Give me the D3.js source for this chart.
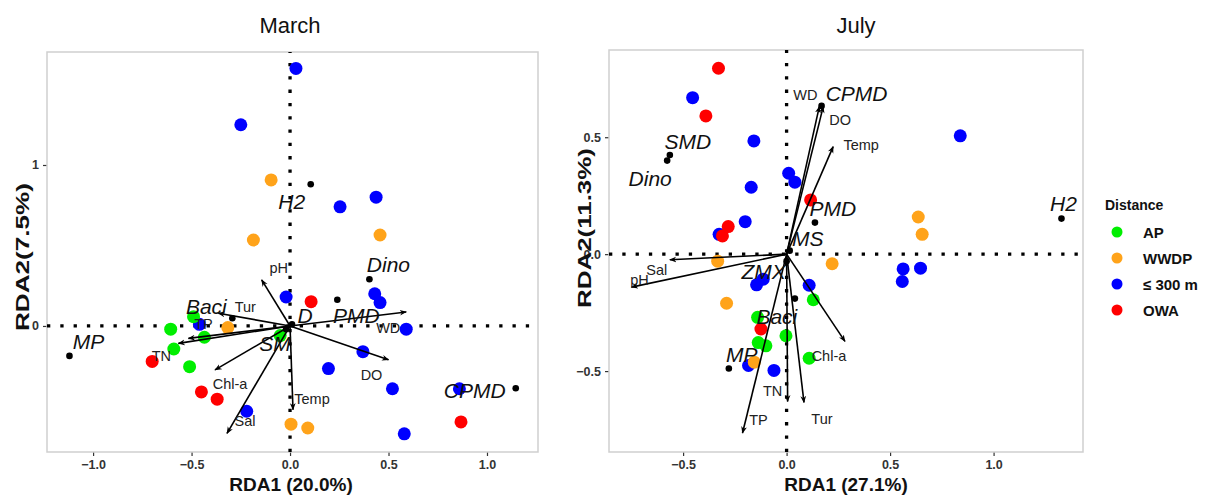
<!DOCTYPE html>
<html>
<head>
<meta charset="utf-8">
<script src="https://cdn.jsdelivr.net/npm/d3@7"></script>
<style>
  html, body { margin: 0; padding: 0; background: #fff; }
  svg { display: block; font-family: "Liberation Sans", Arial, sans-serif; }
</style>
</head>
<body>
<svg id="chart" width="1212" height="495"></svg>
<script>
// ---------------- DATA ----------------
const groups = ["AP", "WWDP", "≤ 300 m", "OWA"];
const groupColors = ["#00ee00", "#ffa31a", "#0000ff", "#ff0000"];

// March site scores [RDA1, RDA2, group]
const marchSites = [
  [0.03, 1.60, "≤ 300 m"], [-0.25, 1.25, "≤ 300 m"], [0.254, 0.74, "≤ 300 m"], [0.437, 0.80, "≤ 300 m"],
  [-0.02, 0.18, "≤ 300 m"], [-0.46, 0.01, "≤ 300 m"], [-0.22, -0.53, "≤ 300 m"], [0.43, 0.20, "≤ 300 m"],
  [0.457, 0.145, "≤ 300 m"], [0.59, -0.02, "≤ 300 m"], [0.37, -0.16, "≤ 300 m"], [0.195, -0.265, "≤ 300 m"],
  [0.52, -0.39, "≤ 300 m"], [0.86, -0.39, "≤ 300 m"], [0.58, -0.67, "≤ 300 m"],
  [-0.096, 0.907, "WWDP"], [-0.186, 0.534, "WWDP"], [0.457, 0.565, "WWDP"], [-0.316, -0.01, "WWDP"],
  [0.005, -0.61, "WWDP"], [0.09, -0.634, "WWDP"],
  [0.107, 0.151, "OWA"], [-0.70, -0.22, "OWA"], [-0.45, -0.41, "OWA"], [-0.37, -0.455, "OWA"], [0.868, -0.596, "OWA"],
  [-0.49, 0.058, "AP"], [-0.606, -0.02, "AP"], [-0.435, -0.07, "AP"], [-0.59, -0.143, "AP"],
  [-0.51, -0.253, "AP"], [-0.05, -0.06, "AP"]
];
// March species scores [name, RDA1, RDA2]
const marchSpecies = [
  ["H2", 0.105, 0.88], ["MP", -1.12, -0.186], ["Dino", 0.403, 0.29], ["PMD", 0.24, 0.163],
  ["CPMD", 1.146, -0.387], ["Baci", -0.293, 0.048], ["D", 0.01, 0.01], ["SM", -0.02, -0.02]
];
// March environmental vectors [name, RDA1, RDA2]
const marchEnv = [
  ["pH", -0.144, 0.286], ["Tur", -0.364, 0.079], ["TP", -0.516, -0.077], ["TN", -0.567, -0.108],
  ["Chl-a", -0.381, -0.273], ["Sal", -0.32, -0.667], ["Temp", 0.015, -0.52], ["WD", 0.59, 0.087], ["DO", 0.50, -0.21]
];

// July site scores
const julySites = [
  [-0.454, 0.669, "≤ 300 m"], [-0.158, 0.484, "≤ 300 m"], [0.01, 0.346, "≤ 300 m"], [0.04, 0.308, "≤ 300 m"],
  [-0.171, 0.286, "≤ 300 m"], [-0.20, 0.139, "≤ 300 m"], [-0.326, 0.085, "≤ 300 m"], [0.839, 0.506, "≤ 300 m"],
  [-0.113, -0.107, "≤ 300 m"], [-0.145, -0.131, "≤ 300 m"], [-0.184, -0.476, "≤ 300 m"], [-0.061, -0.497, "≤ 300 m"],
  [0.563, -0.063, "≤ 300 m"], [0.647, -0.06, "≤ 300 m"], [0.559, -0.117, "≤ 300 m"], [0.109, -0.133, "≤ 300 m"],
  [0.636, 0.159, "WWDP"], [0.655, 0.085, "WWDP"], [-0.333, -0.03, "WWDP"], [-0.29, -0.21, "WWDP"],
  [-0.156, -0.462, "WWDP"], [0.22, -0.041, "WWDP"],
  [-0.329, 0.795, "OWA"], [-0.39, 0.591, "OWA"], [0.116, 0.232, "OWA"], [-0.282, 0.118, "OWA"],
  [-0.31, 0.078, "OWA"], [-0.124, -0.32, "OWA"],
  [-0.14, -0.27, "AP"], [-0.003, -0.349, "AP"], [-0.137, -0.378, "AP"], [-0.10, -0.392, "AP"],
  [0.129, -0.195, "AP"], [0.109, -0.445, "AP"]
];
const julySpecies = [
  ["SMD", -0.564, 0.424], ["Dino", -0.577, 0.40], ["H2", 1.328, 0.152], ["CPMD", 0.169, 0.634],
  ["PMD", 0.137, 0.135], ["MS", 0.015, 0.015], ["ZMX", 0.0, -0.03], ["Baci", 0.04, -0.19], ["MP", -0.279, -0.489]
];
const julyEnv = [
  ["WD", 0.158, 0.631], ["DO", 0.177, 0.631], ["Temp", 0.225, 0.46], ["Sal", -0.564, -0.024],
  ["pH", -0.749, -0.141], ["TP", -0.213, -0.765], ["TN", 0.005, -0.63], ["Tur", 0.084, -0.634], ["Chl-a", 0.282, -0.373]
];

const marchXTicks = [-1.0, -0.5, 0.0, 0.5, 1.0];
const marchYTicks = [0, 1];
const julyXTicks = [-0.5, 0.0, 0.5, 1.0];
const julyYTicks = [-0.5, 0.0, 0.5];

// ---------------- LAYOUT (pixel offsets for labels) ----------------
const marchSpeciesOff = { H2: [-19, 17], MP: [19, -14], Dino: [19, -15], PMD: [19, 16], CPMD: [-41, 2], Baci: [-26, -12], D: [13, -9], SM: [-11, 14] };
const marchEnvOff = { pH: [17, -12], Tur: [27, -6], TP: [15, -14], TN: [-17, 13], "Chl-a": [15, 14], Sal: [18, -12], Temp: [19, -11], WD: [-18, 16], DO: [-17, 15] };
const julySpeciesOff = { SMD: [18, -14], Dino: [-17, 18], H2: [2, -15], CPMD: [35, -12], PMD: [18, -14], MS: [18, -12], ZMX: [-23, 10], Baci: [-18, 18], MP: [13, -14] };
const julyEnvOff = { WD: [-14, -12], DO: [17, 13], Temp: [28, -2], Sal: [-13, 10], pH: [8, -7], TP: [16, -13], TN: [-15, -10], Tur: [18, 17], "Chl-a": [-16, 15] };

const svg = d3.select("#chart");
const color = d3.scaleOrdinal().domain(groups).range(groupColors);

const defs = svg.append("defs");
defs.append("marker").attr("id", "arr").attr("viewBox", "0 0 10 10")
  .attr("refX", 9).attr("refY", 5).attr("markerWidth", 4.5).attr("markerHeight", 4.5)
  .attr("orient", "auto").attr("markerUnits", "strokeWidth")
  .append("path").attr("d", "M0,1 L10,5 L0,9 L3,5 Z").attr("fill", "#000");

function fmt(v, dec) {
  const s = Math.abs(v).toFixed(dec);
  return (v < 0 ? "\u2212" : "") + s;
}

function panel(cfg) {
  const x = d3.scaleLinear().domain(cfg.xDom).range([cfg.left, cfg.right]);
  const y = d3.scaleLinear().domain(cfg.yDom).range([cfg.bottom, cfg.top]);
  const g = svg.append("g");
  const clipId = "clip" + cfg.id;
  defs.append("clipPath").attr("id", clipId).append("rect")
    .attr("x", cfg.left).attr("y", cfg.top).attr("width", cfg.right - cfg.left).attr("height", cfg.bottom - cfg.top);

  // title
  g.append("text").attr("x", cfg.titleX).attr("y", 33).attr("text-anchor", "middle")
    .attr("font-size", 22).attr("fill", "#111").text(cfg.title);

  // axes
  const xAxis = d3.axisBottom(x).tickValues(cfg.xTicks).tickSize(4).tickPadding(4).tickFormat(d => fmt(d, 1));
  const yAxis = d3.axisLeft(y).tickValues(cfg.yTicks).tickSize(4).tickPadding(4).tickFormat(d => fmt(d, cfg.yDec));
  const gx = g.append("g").attr("transform", `translate(0,${cfg.bottom})`).call(xAxis);
  const gy = g.append("g").attr("transform", `translate(${cfg.left},0)`).call(yAxis);
  [gx, gy].forEach(a => {
    a.select(".domain").remove();
    a.selectAll(".tick line").attr("stroke", "#333").attr("stroke-width", 1.2);
    a.selectAll(".tick text").attr("font-size", 12.5).attr("font-weight", "bold").attr("fill", "#333")
      .attr("font-family", "Liberation Sans, Arial, sans-serif");
  });

  // frame
  g.append("rect").attr("x", cfg.left).attr("y", cfg.top)
    .attr("width", cfg.right - cfg.left).attr("height", cfg.bottom - cfg.top)
    .attr("fill", "none").attr("stroke", "#cfcfcf").attr("stroke-width", 1.5);

  // axis titles
  g.append("text").attr("x", cfg.xTitleX).attr("y", 491).attr("text-anchor", "middle")
    .attr("font-size", 19).attr("font-weight", "bold").attr("fill", "#111").text(cfg.xTitle);
  g.append("text").attr("transform", `translate(${cfg.yTitleX},${cfg.yTitleY}) rotate(-90)`)
    .attr("text-anchor", "middle").attr("font-size", 19).attr("font-weight", "bold").attr("fill", "#111")
    .attr("textLength", cfg.yTitleLen).attr("lengthAdjust", "spacingAndGlyphs").text(cfg.yTitle);

  const inner = g.append("g").attr("clip-path", `url(#${clipId})`);
  // reference dotted lines
  inner.append("line").attr("x1", cfg.left).attr("x2", cfg.right).attr("y1", y(0)).attr("y2", y(0))
    .attr("stroke", "#000").attr("stroke-width", 3.3).attr("stroke-dasharray", "3.3 10");
  inner.append("line").attr("x1", x(0)).attr("x2", x(0)).attr("y1", cfg.bottom).attr("y2", cfg.top)
    .attr("stroke", "#000").attr("stroke-width", 3.3).attr("stroke-dasharray", "3.3 10");

  // sites
  inner.selectAll("circle.site").data(cfg.sites).join("circle").attr("class", "site")
    .attr("cx", d => x(d[0])).attr("cy", d => y(d[1])).attr("r", 6.5).attr("fill", d => color(d[2]));

  // env arrows
  inner.selectAll("line.env").data(cfg.env).join("line").attr("class", "env")
    .attr("x1", x(0)).attr("y1", y(0)).attr("x2", d => x(d[1])).attr("y2", d => y(d[2]))
    .attr("stroke", "#000").attr("stroke-width", 1.6).attr("marker-end", "url(#arr)");

  // species points
  inner.selectAll("circle.sp").data(cfg.species).join("circle").attr("class", "sp")
    .attr("cx", d => x(d[1])).attr("cy", d => y(d[2])).attr("r", 3.3).attr("fill", "#000");

  // env labels
  inner.selectAll("text.envl").data(cfg.env).join("text").attr("class", "envl")
    .attr("x", d => x(d[1]) + cfg.envOff[d[0]][0]).attr("y", d => y(d[2]) + cfg.envOff[d[0]][1])
    .attr("text-anchor", "middle").attr("dominant-baseline", "central")
    .attr("font-size", 14.5).attr("fill", "#222").text(d => d[0]);

  // species labels
  inner.selectAll("text.spl").data(cfg.species).join("text").attr("class", "spl")
    .attr("x", d => x(d[1]) + cfg.spOff[d[0]][0]).attr("y", d => y(d[2]) + cfg.spOff[d[0]][1])
    .attr("text-anchor", "middle").attr("dominant-baseline", "central")
    .attr("font-size", 21).attr("font-style", "italic").attr("fill", "#111").text(d => d[0]);
}

panel({
  id: "m", title: "March", titleX: 290, left: 47, right: 538, top: 52, bottom: 452,
  xDom: [-1.234, 1.259], yDom: [-0.783, 1.702], xTicks: marchXTicks, yTicks: marchYTicks, yDec: 0,
  xTitle: "RDA1 (20.0%)", xTitleX: 291, yTitle: "RDA2(7.5%)", yTitleX: 29, yTitleY: 257, yTitleLen: 148,
  sites: marchSites, species: marchSpecies, env: marchEnv, spOff: marchSpeciesOff, envOff: marchEnvOff
});
panel({
  id: "j", title: "July", titleX: 856, left: 609, right: 1083, top: 50, bottom: 452,
  xDom: [-0.858, 1.432], yDom: [-0.846, 0.873], xTicks: julyXTicks, yTicks: julyYTicks, yDec: 1,
  xTitle: "RDA1 (27.1%)", xTitleX: 846, yTitle: "RDA2(11.3%)", yTitleX: 591, yTitleY: 228, yTitleLen: 160,
  sites: julySites, species: julySpecies, env: julyEnv, spOff: julySpeciesOff, envOff: julyEnvOff
});

// legend
const lg = svg.append("g");
lg.append("text").attr("x", 1105).attr("y", 210).attr("font-size", 14).attr("font-weight", "bold")
  .attr("fill", "#111").text("Distance");
const legY = [232, 258, 284, 310];
groups.forEach((gname, i) => {
  lg.append("circle").attr("cx", 1117).attr("cy", legY[i]).attr("r", 5.5).attr("fill", color(gname));
  lg.append("text").attr("x", 1143).attr("y", legY[i]).attr("dominant-baseline", "central")
    .attr("font-size", 15).attr("font-weight", "bold").attr("fill", "#111").text(gname);
});
</script>
</body>
</html>
